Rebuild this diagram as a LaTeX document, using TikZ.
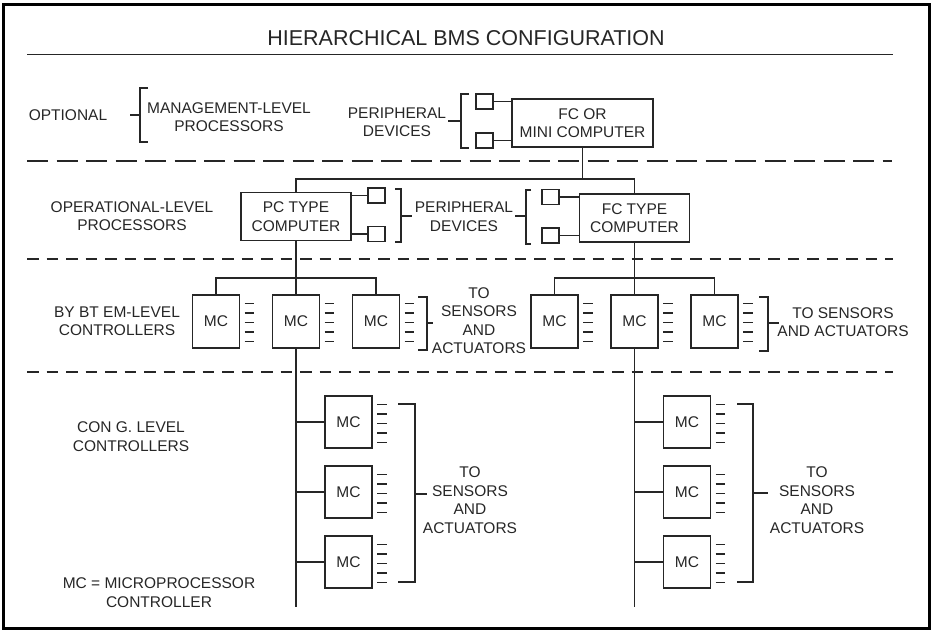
\documentclass[tikz,border=0pt]{standalone}
\usepackage{fontspec}
\setmainfont{Liberation Sans}
\usepackage{tikz}
\usetikzlibrary{positioning}

\begin{document}
\begin{tikzpicture}[x=1pt,y=-1pt,line width=1.1pt,color=black!85,
  lbl/.style={align=center,inner sep=0pt,font=\fontsize{15.5}{18.5}\selectfont},
  compbox/.style={draw,lbl,minimum width=110pt,minimum height=48pt},
  mcbox/.style={draw,lbl,minimum width=47pt,minimum height=53pt},
  devbox/.style={draw,inner sep=0pt,minimum width=17pt,minimum height=15pt},
  longdash/.style={dash pattern=on 21pt off 8.5pt},
  shortdash/.style={dash pattern=on 11.5pt off 8pt}]
\useasboundingbox (0,0) rectangle (932,630);
\draw[line width=3pt,black] (3,4) rectangle (929,628);
\node[lbl,font=\fontsize{21.5}{24}\selectfont] (title) at (466,38.5) {HIERARCHICAL BMS CONFIGURATION};
\draw (27,54.5) -- (893,54.5);
\draw[longdash] (27,161) -- (892,161);
\draw[shortdash] (27,259) -- (893,259);
\draw[shortdash] (27,372) -- (893,372);
% management level
\node[lbl] (optional) at (68,115) {OPTIONAL};
\draw (130,115) -- (140,115);
\draw (148,88) -- (140,88) -- (140,142) -- (148,142);
\node[lbl] (mgmt) at (229,117) {MANAGEMENT-LEVEL\\PROCESSORS};
\node[lbl] (periph1) at (397,122) {PERIPHERAL\\DEVICES};
\draw (448,121) -- (461,121);
\draw (469,94) -- (461,94) -- (461,148) -- (469,148);
\node[devbox] (dev1a) at (484.5,101.5) {};
\node[devbox] (dev1b) at (484.5,140.5) {};
\node[compbox,minimum width=141pt] (fcmini) at (582.5,123) {FC OR\\MINI COMPUTER};
\draw (dev1a.east) -- (dev1a.east -| fcmini.west);
\draw (dev1b.east) -- (dev1b.east -| fcmini.west);
% operational level
\node[lbl] (oplevel) at (132,216) {OPERATIONAL-LEVEL\\PROCESSORS};
\node[compbox] (pc) at (296,216.5) {PC TYPE\\COMPUTER};
\node[compbox] (fct) at (634.5,218) {FC TYPE\\COMPUTER};
\coordinate (bus1) at (583,179);
\draw (fcmini.south) -- (fcmini.south |- bus1);
\draw (pc.north) -- (pc.north |- bus1) -- (fct.north |- bus1) -- (fct.north);
\node[devbox] (dev2a) at (376.5,195.5) {};
\node[devbox] (dev2b) at (376.5,234) {};
\draw (pc.east |- dev2a) -- (dev2a.west);
\draw (pc.east |- dev2b) -- (dev2b.west);
\draw (395,189) -- (401,189) -- (401,242) -- (395,242);
\draw (401,216) -- (412,216);
\node[lbl] (periph2) at (464,216.5) {PERIPHERAL\\DEVICES};
\draw (515,216) -- (526,216);
\draw (531,190) -- (526,190) -- (526,244) -- (531,244);
\node[devbox] (dev3a) at (550.5,197) {};
\node[devbox] (dev3b) at (550.5,235.5) {};
\draw (dev3a.east) -- (dev3a.east -| fct.west);
\draw (dev3b.east) -- (dev3b.east -| fct.west);
% system level
\node[lbl] (bytem) at (117,321) {BY BT EM-LEVEL\\CONTROLLERS};
\foreach \i/\xx in {1/216,2/296,3/376,4/554.5,5/634.5,6/714.5} {
  \node[mcbox] (mc\i) at (\xx,321.5) {MC};
  \foreach \k in {0,...,4} {\draw ([shift={(4.5,9+9.5*\k)}]mc\i.north east) -- ++(9.5,0);}
}
\coordinate (bus2) at (0,278);
\draw (mc1.north) -- (mc1.north |- bus2) -- (mc3.north |- bus2) -- (mc3.north);
\draw (mc4.north) -- (mc4.north |- bus2) -- (mc6.north |- bus2) -- (mc6.north);
\draw (pc.south) -- (mc2.north);
\draw (fct.south) -- (mc5.north);
\draw (418,297) -- (427,297) -- (427,350) -- (418,350);
\draw (427,323) -- (433,323);
\node[lbl] (to1) at (479,320.5) {TO\\SENSORS\\AND\\ACTUATORS};
\draw (759,297) -- (768,297) -- (768,351) -- (759,351);
\draw (768,323) -- (779,323);
\node[lbl] (to2) at (843,322) {TO SENSORS\\AND ACTUATORS};
% zone level
\node[lbl] (cong) at (131,436.5) {CON G. LEVEL\\CONTROLLERS};
\node[lbl] (mceq) at (159,592.5) {MC = MICROPROCESSOR\\CONTROLLER};
\coordinate (end1) at (296,607);
\coordinate (end2) at (634.5,607);
\draw (mc2.south) -- (end1);
\draw (mc5.south) -- (end2);
\foreach \j/\xx/\yy in {7/348.5/422,8/348.5/492,9/348.5/562,10/687/422,11/687/492,12/687/562} {
  \node[mcbox,minimum height=52pt] (mc\j) at (\xx,\yy) {MC};
  \draw (mc\j.west) -- ++(-29,0);
  \foreach \k in {0,...,4} {\draw ([shift={(4.5,9+9.5*\k)}]mc\j.north east) -- ++(9.5,0);}
}
\draw (398,404) -- (415,404) -- (415,582) -- (398,582);
\draw (415,494) -- (427,494);
\node[lbl] (to3) at (470,500) {TO\\SENSORS\\AND\\ACTUATORS};
\draw (737,404) -- (753,404) -- (753,582) -- (737,582);
\draw (753,493) -- (768,493);
\node[lbl] (to4) at (817,500) {TO\\SENSORS\\AND\\ACTUATORS};
\end{tikzpicture}
\end{document}
